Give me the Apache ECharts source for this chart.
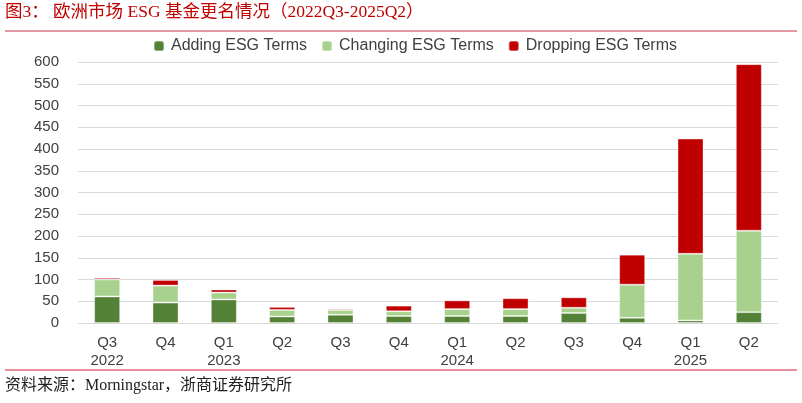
<!DOCTYPE html>
<html>
<head>
<meta charset="utf-8">
<script src="https://cdn.jsdelivr.net/npm/echarts@6/dist/echarts.min.js"></script>
<style>
html, body { margin: 0; padding: 0; background: #fff; }
#main { width: 802px; height: 403px; }
</style>
</head>
<body>
<div id="main"></div>
<script>
var quarters = ['Q3\n2022', 'Q4', 'Q1\n2023', 'Q2', 'Q3', 'Q4', 'Q1\n2024', 'Q2', 'Q3', 'Q4', 'Q1\n2025', 'Q2'];
var adding   = [61, 47, 54, 15, 19, 16, 16, 16, 23, 12, 6, 25];
var changing = [39, 39, 16, 15, 11, 11, 16, 16, 12, 76, 153, 187];
var dropping = [4, 13, 7, 7, 3, 13, 20, 25, 24, 69, 265, 383];

var myChart = echarts.init(document.getElementById('main'));

var barStyle = function (c) {
    return { color: c, borderColor: 'rgba(255,255,255,0.35)', borderWidth: 1 };
};

var option = {
    animation: false,
    graphic: [
        {
            type: 'text', left: 5, top: 4,
            style: {
                text: '图3： 欧洲市场 ESG 基金更名情况（2022Q3-2025Q2）',
                fill: '#c00000',
                font: '17.5px "Liberation Serif", "Noto Sans CJK SC"'
            }
        },
        {
            type: 'line', shape: { x1: 5, y1: 31, x2: 797, y2: 31 },
            style: { stroke: '#c8344a', lineWidth: 1 }
        },
        {
            type: 'line', shape: { x1: 5, y1: 370, x2: 797, y2: 370 },
            style: { stroke: '#e06874', lineWidth: 1.5 }
        },
        {
            type: 'text', left: 5, top: 378,
            style: {
                text: '资料来源：Morningstar，浙商证券研究所',
                fill: '#222',
                font: '16px "Liberation Serif", "Noto Sans CJK SC"'
            }
        }
    ],
    legend: {
        top: 33,
        left: 148,
        itemWidth: 10,
        itemHeight: 10,
        itemGap: 14,
        textStyle: { fontSize: 16, color: '#404040', fontFamily: 'Liberation Sans, sans-serif', padding: [0, 0, 0, 2] },
        data: ['Adding ESG Terms', 'Changing ESG Terms', 'Dropping ESG Terms']
    },
    grid: { left: 78, right: 24, top: 62, bottom: 80 },
    xAxis: {
        type: 'category',
        data: quarters,
        axisLine: { show: false },
        axisTick: { show: false },
        axisLabel: {
            fontSize: 15, color: '#404040', margin: 11, lineHeight: 18,
            fontFamily: 'Liberation Sans, sans-serif'
        }
    },
    yAxis: {
        type: 'value',
        min: 0, max: 600, interval: 50,
        axisLine: { show: false },
        axisTick: { show: false },
        axisLabel: { fontSize: 15, color: '#404040', margin: 19, fontFamily: 'Liberation Sans, sans-serif' },
        splitLine: { lineStyle: { color: '#d9d9d9', width: 1 } }
    },
    series: [
        { name: 'Adding ESG Terms', type: 'bar', stack: 'all', barWidth: 26, itemStyle: barStyle('#538135'), data: adding },
        { name: 'Changing ESG Terms', type: 'bar', stack: 'all', barWidth: 26, itemStyle: barStyle('#a9d18e'), data: changing },
        { name: 'Dropping ESG Terms', type: 'bar', stack: 'all', barWidth: 26, itemStyle: barStyle('#c00000'), data: dropping }
    ]
};

myChart.setOption(option);
</script>
</body>
</html>
